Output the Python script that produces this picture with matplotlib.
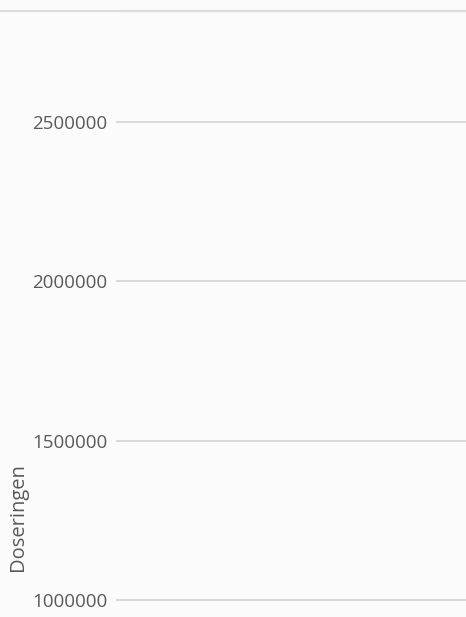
import matplotlib.pyplot as plt
from matplotlib.ticker import FixedLocator, FuncFormatter

# Only the y axis of the chart is visible in this crop
y_ticks = [1000000, 1500000, 2000000, 2500000]
y_label = "Doseringen"
y_min, y_max = 946700, 2848000

bg = "#fbfbfb"
text_color = "#595959"
grid_color = "#d3d3d3"

fig = plt.figure(figsize=(4.66, 6.17), dpi=100, facecolor=bg)
ax = fig.add_axes([116 / 466, 0, 350 / 466, 606 / 617], facecolor=bg)

ax.set_ylim(y_min, y_max)
ax.set_xlim(0, 1)
ax.yaxis.set_major_locator(FixedLocator(y_ticks))
ax.yaxis.set_major_formatter(FuncFormatter(lambda v, p: f"{int(v)}"))
ax.set_xticks([])

ax.grid(axis="y", color=grid_color, linewidth=1.2)
ax.set_axisbelow(True)

for side in ["left", "right", "bottom"]:
    ax.spines[side].set_visible(False)
ax.spines["top"].set_color("#dcdcdc")
ax.spines["top"].set_linewidth(1.5)

ax.tick_params(axis="y", length=0, pad=6, labelsize=13.5, labelcolor=text_color)
for lbl in ax.get_yticklabels():
    lbl.set_family("Open Sans")

ax.set_ylabel(y_label, fontsize=14.5, color=text_color, family="Open Sans")
ax.yaxis.set_label_coords(-0.25, 0.165)

# extend the top border across the whole figure
fig.add_artist(plt.Line2D([0, 1], [606 / 617, 606 / 617], color="#dcdcdc",
                          linewidth=1.5, transform=fig.transFigure))

fig.savefig("out.png", dpi=100, facecolor=bg)
